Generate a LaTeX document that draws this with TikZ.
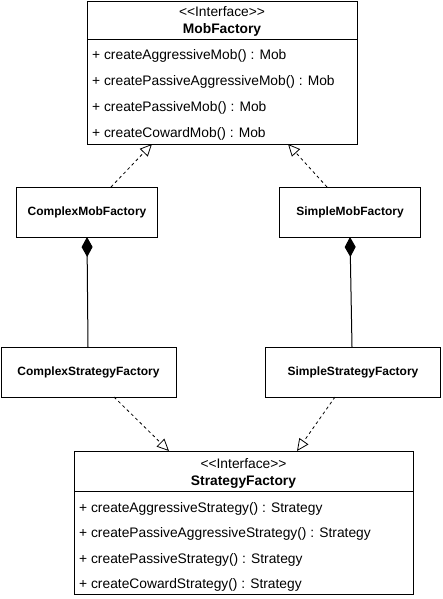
\documentclass[tikz,border=0pt]{standalone}
\usepackage{fontspec}
\setmainfont[Ligatures=NoCommon]{Liberation Sans}
\usetikzlibrary{arrows.meta}
\begin{document}
\begin{tikzpicture}[x=1pt,y=-1pt,
  box/.style={draw,line width=1pt,inner sep=0pt,fill=white},
  member/.style={anchor=base west,inner sep=0pt,font=\fontsize{13.8}{16}\selectfont},
  stereo/.style={anchor=base,inner sep=0pt,font=\fontsize{13.8}{16}\selectfont},
  cname/.style={anchor=base,inner sep=0pt,font=\fontsize{13.8}{16}\selectfont\bfseries},
  sname/.style={inner sep=0pt,font=\fontsize{12}{14}\selectfont\bfseries},
  realize/.style={dashed,line width=0.8pt,-{Triangle[open,length=12pt,width=11pt]},dash pattern=on 3pt off 3pt},
  compose/.style={line width=1pt,{Diamond[length=20pt,width=11pt]}-}]
\useasboundingbox (0,0) rectangle (442,599);
% MobFactory
\node[box,minimum width=270pt,minimum height=143pt,anchor=north west] (mf) at (87,1) {};
\draw[line width=1pt] (87,40) -- (357,40);
\node[stereo] (mfs) at (222,17) {{<}{<}Interface{>}{>}};
\node[cname] (mfn) at (222,34) {MobFactory};
\node[member] (m1) at (92,60) {+ createAggressiveMob() : Mob};
\node[member] (m2) at (92,86) {+ createPassiveAggressiveMob() : Mob};
\node[member] (m3) at (92,112) {+ createPassiveMob() : Mob};
\node[member] (m4) at (92,137) {+ createCowardMob() : Mob};
% middle boxes
\node[box,minimum width=141pt,minimum height=50pt,anchor=north west] (cmf) at (16,187) {};
\node[sname] at (cmf) {ComplexMobFactory};
\node[box,minimum width=141pt,minimum height=50pt,anchor=north west] (smf) at (279,187) {};
\node[sname] at (smf) {SimpleMobFactory};
\node[box,minimum width=175pt,minimum height=50pt,anchor=north west] (csf) at (0.5,347) {};
\node[sname] at (csf) {ComplexStrategyFactory};
\node[box,minimum width=175pt,minimum height=50pt,anchor=north west] (ssf) at (265,347) {};
\node[sname] at (ssf) {SimpleStrategyFactory};
% StrategyFactory
\node[box,minimum width=339pt,minimum height=143pt,anchor=north west] (sf) at (74,451) {};
\draw[line width=1pt] (74,491) -- (413,491);
\node[stereo] (sfs) at (243.5,468) {{<}{<}Interface{>}{>}};
\node[cname] (sfn) at (243.5,485) {StrategyFactory};
\node[member] (s1) at (79,512) {+ createAggressiveStrategy() : Strategy};
\node[member] (s2) at (79,537) {+ createPassiveAggressiveStrategy() : Strategy};
\node[member] (s3) at (79,563) {+ createPassiveStrategy() : Strategy};
\node[member] (s4) at (79,588) {+ createCowardStrategy() : Strategy};
% connectors
\coordinate (a1) at (111,187); \coordinate (a2) at (152,144);
\draw[realize] (a1) -- (a2);
\coordinate (b1) at (327,187); \coordinate (b2) at (288,144);
\draw[realize] (b1) -- (b2);
\coordinate (c1) at (87,237); \coordinate (c2) at (88,347);
\draw[compose] (c1) -- (c2);
\coordinate (d1) at (350,237); \coordinate (d2) at (352,347);
\draw[compose] (d1) -- (d2);
\coordinate (e1) at (114,397); \coordinate (e2) at (169,451);
\draw[realize] (e1) -- (e2);
\coordinate (f1) at (335,397); \coordinate (f2) at (297,451);
\draw[realize] (f1) -- (f2);
\end{tikzpicture}
\end{document}
